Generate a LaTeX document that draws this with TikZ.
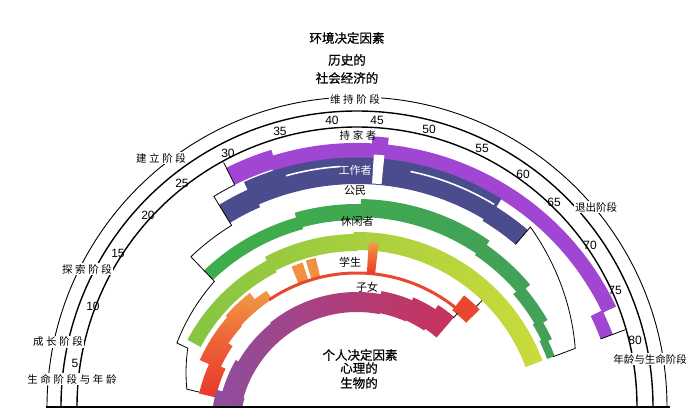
\documentclass[tikz,border=0pt]{standalone}
\usepackage{fontspec}
\newfontfamily\cjk{Noto Sans CJK SC}
\newfontfamily\cjkwide{Noto Sans CJK SC}[LetterSpace=25]
\newfontfamily\cjkbold{Noto Sans CJK SC}[FakeBold=0.8]
\newfontfamily\numfont{Liberation Sans}
\usetikzlibrary{calc}
\definecolor{Homemaker}{HTML}{A146D2}
\definecolor{Worker}{HTML}{4B4C8D}
\definecolor{CitizenL}{HTML}{3DAE4A}
\definecolor{CitizenR}{HTML}{43A05A}
\definecolor{LeisureL}{HTML}{86C441}
\definecolor{LeisureR}{HTML}{CBDB3B}
\definecolor{StudRed}{HTML}{E9382B}
\definecolor{StudOrange}{HTML}{F29A45}
\definecolor{ChildL}{HTML}{8D4E9F}
\definecolor{ChildR}{HTML}{C9325A}

% annular sector round the band centre (cb): start angle, end angle, inner r, outer r
\newcommand{\ring}[4]{($(cb)+(#1:#3)$) arc[start angle=#1, end angle=#2, radius=#3] -- ($(cb)+(#2:#4)$) arc[start angle=#2, end angle=#1, radius=#4] -- cycle}
% outline whose radius changes linearly with the angle
\newcommand{\spiralto}[4]{-- plot[domain=#1:#2, samples=25] ({cos(\x)*(#3+(\x-#1)*(#4-#3)/(#2-#1))}, {-23+sin(\x)*(#3+(\x-#1)*(#4-#3)/(#2-#1))})}

\begin{document}
\begin{tikzpicture}[x=1pt, y=1pt,
    stageline/.style={line width=0.9pt},
    ageline/.style={line width=1.4pt},
    env/.style={draw=black, line width=0.8pt},
    stage/.style={fill=white, inner sep=1pt, font=\cjkwide\fontsize{10.5}{12}\selectfont},
    stagen/.style={fill=white, inner sep=1pt, font=\cjk\fontsize{10.5}{12}\selectfont},
    role/.style={inner sep=0pt, font=\cjk\fontsize{11}{12}\selectfont},
    head/.style={inner sep=0pt, font=\cjkbold\fontsize{12.5}{14}\selectfont},
    age/.style={inner sep=0pt, font=\numfont\fontsize{12}{12}\selectfont}
  ]
  \useasboundingbox (-357,-9) rectangle (343,407);
  \coordinate (o) at (0,0);
  \coordinate (cb) at (0,-23);

  % Role bands
  \begin{scope}
    \clip (-357,0) rectangle (343,407);
    % homemaker
    \fill[Homemaker] \ring{116.5}{107}{274}{293} \ring{108}{25.5}{272}{287}
      \ring{87}{83.8}{284}{294} \ring{26}{20.5}{260}{273};
    % worker
    \fill[Worker] \ring{121.5}{113.5}{243}{264} \ring{114.5}{58}{246}{272.5}
      \ring{59}{49.5}{244}{263};
    \fill[white] \ring{86.5}{84.3}{247}{276};
    \draw[white, line width=1.6pt] ($(cb)+(105.6:264)$) arc[start angle=105.6, end angle=93.7, radius=264];
    \draw[white, line width=1.6pt] ($(cb)+(78.3:264)$) arc[start angle=78.3, end angle=58.7, radius=264];
    % citizen
    \shade[left color=CitizenL, right color=CitizenR]
      \ring{133.8}{105}{208}{221} \ring{106}{88}{210}{226} \ring{89}{55}{213}{231}
      \ring{56}{40}{211}{226} \ring{41}{30}{207}{220} \ring{31}{25}{205}{215}
      \ring{26}{20.5}{203}{211};
    % leisurite
    \shade[left color=LeisureL, right color=LeisureR]
      \ring{152}{117}{177}{192} \ring{118}{90}{179}{196} \ring{91}{20.5}{180}{198};
    % student
    \shade[bottom color=StudRed, top color=StudOrange, middle color=StudRed!60!StudOrange]
      \ring{167}{155}{145}{162} \ring{156}{146}{150}{172} \ring{147}{138}{155}{172}
      \ring{139}{128}{156}{174} \ring{129}{123}{156}{166};
    \fill[StudOrange!90!StudRed] \ring{111.8}{108}{157}{176} \ring{106.8}{103.5}{157}{177};
    \fill[StudRed!85!StudOrange] \ring{124}{51}{155.5}{158.5} \ring{51.5}{44.5}{153}{172};
    \shade[top color=StudOrange, bottom color=StudRed] \ring{86.4}{83.4}{157}{188};
    % child
    \shade[left color=ChildL, right color=ChildR]
      \ring{181}{164}{117}{146} \ring{165}{150}{118}{140} \ring{151}{128}{118}{137}
      \ring{129}{79}{118}{138} \ring{80}{66}{119}{141} \ring{67}{56}{120}{144}
      \ring{57}{49.3}{122}{149};
  \end{scope}

  % Role outlines
  \draw[env] ($(cb)+(116.5:274)$) -- ($(cb)+(116.5:299)$);
  \draw[env] ($(cb)+(116.5:274)$) arc[start angle=116.5, end angle=121.5, radius=274] -- ($(cb)+(121.5:243)$);
  \draw[env] ($(cb)+(20.5:260)$) -- ($(cb)+(20.5:286)$);
  \draw[env] ($(cb)+(49.5:244)$) -- ($(cb)+(49.5:267)$) \spiralto{49.5}{20.5}{267}{233} -- ($(cb)+(20.5:209)$);
  \draw[env] ($(cb)+(121.5:243)$) -- ($(cb)+(121.5:240)$) arc[start angle=121.5, end angle=133.8, radius=240]
    -- ($(cb)+(133.8:208)$) \spiralto{133.8}{154.2}{206}{200} -- ($(cb)+(154.2:188)$)
    \spiralto{154.2}{166.5}{188}{175} -- ($(cb)+(166.5:162)$);
  \draw[env] ($(cb)+(46:172)$) -- ($(cb)+(46:180)$);
  \draw[env] ($(cb)+(49.3:148)$) -- ($(cb)+(49.3:154)$);

  % Life stage and age arcs
  \draw[stageline] (-310,0) arc[start angle=180, end angle=0, radius=310];
  \draw[ageline] (-296,0) arc[start angle=180, end angle=0, radius=296];
  \draw[ageline] (-280,0) arc[start angle=180, end angle=0, radius=280];
  \draw[line width=1.6pt] (-311,0) -- (313,0);
  \foreach \a/\ax/\ay in {5/-282/44, 10/-264/101, 15/-239/154, 20/-209/192,
      25/-175/224, 30/-129/254, 35/-77/276, 40/-25/287, 45/20/287, 50/72/278,
      55/125/259, 60/166/233, 65/197/205, 70/233/162, 75/258/117, 80/278/67}
    \node[age] (age\a) at (\ax,\ay) {\a};

  % Stage labels
  \node[stage] (birth) at (-285,28) {生命阶段与年龄};
  \node[stage] (growth) at (-299,65) {成长阶段};
  \node[stage] (explore) at (-270,138) {探索阶段};
  \node[stage] (establish) at (-196,249) {建立阶段};
  \node[stage] (maintain) at (-2,308) {维持阶段};
  \node[stagen] (decline) at (239,200) {退出阶段};
  \node[stagen] (death) at (293,48) {年龄与生命阶段};

  % Role labels
  \node[role, font=\cjkwide\fontsize{10.5}{12}\selectfont] (homemaker) at (1,272) {持家者};
  \node[role, text=white] (worker) at (-2,237) {工作者};
  \node[role] (citizen) at (-2,217) {公民};
  \node[role] (leisurite) at (0,186) {休闲者};
  \node[role] (student) at (-7,145) {学生};
  \node[role] (child) at (10,120) {子女};

  % Determinants
  \node[head] (situ) at (-10,369) {环境决定因素};
  \node[head] (hist) at (-10,347) {历史的};
  \node[head] (socio) at (-10,329) {社会经济的};
  \node[head] (pers) at (3,52) {个人决定因素};
  \node[head] (psych) at (2,39) {心理的};
  \node[head] (bio) at (2,24) {生物的};
\end{tikzpicture}
\end{document}
